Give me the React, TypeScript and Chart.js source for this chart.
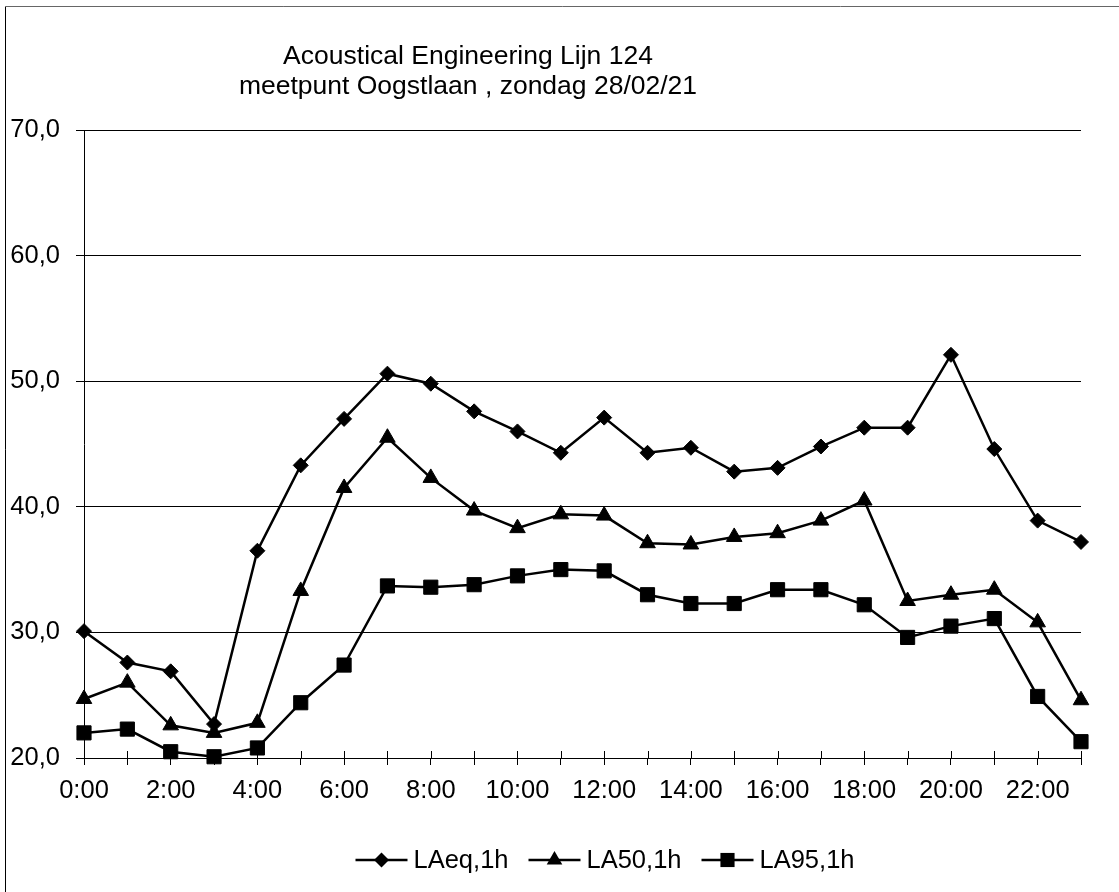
import React, { useEffect, useRef } from 'react';
import { Chart, registerables } from 'chart.js';

Chart.register(...registerables);

const hours = ['0:00', '1:00', '2:00', '3:00', '4:00', '5:00', '6:00', '7:00', '8:00', '9:00', '10:00', '11:00',
  '12:00', '13:00', '14:00', '15:00', '16:00', '17:00', '18:00', '19:00', '20:00', '21:00', '22:00', '23:00'];
const laeq = [30.1, 27.6, 26.9, 22.7, 36.5, 43.3, 47.0, 50.6, 49.8, 47.6, 46.0, 44.3, 47.1, 44.3, 44.7, 42.8, 43.1, 44.8, 46.3, 46.3, 52.1, 44.6, 38.9, 37.2];
const la50 = [24.7, 26.0, 22.6, 22.0, 22.8, 33.3, 41.5, 45.5, 42.3, 39.7, 38.3, 39.4, 39.3, 37.1, 37.0, 37.6, 37.9, 38.9, 40.5, 32.5, 33.0, 33.4, 30.8, 24.6];
const la95 = [22.0, 22.3, 20.5, 20.1, 20.8, 24.4, 27.4, 33.7, 33.6, 33.8, 34.5, 35.0, 34.9, 33.0, 32.3, 32.3, 33.4, 33.4, 32.2, 29.6, 30.5, 31.1, 24.9, 21.3];
const seriesLabels = ['LAeq,1h', 'LA50,1h', 'LA95,1h'];
const yMin = 20;
const yMax = 70;
const yStep = 10;
const titleLines = ['Acoustical Engineering Lijn 124', 'meetpunt Oogstlaan , zondag 28/02/21'];

const FONT = "'Liberation Sans', Arial, sans-serif";
const W = 1119;
const H = 892;

function drawMarker(ctx: CanvasRenderingContext2D, style: string, r: number, x: number, y: number) {
  ctx.beginPath();
  if (style === 'rectRot') {
    ctx.moveTo(x, y - r);
    ctx.lineTo(x + r, y);
    ctx.lineTo(x, y + r);
    ctx.lineTo(x - r, y);
  } else if (style === 'triangle') {
    ctx.moveTo(x, y - r);
    ctx.lineTo(x + r * Math.sin(Math.PI / 3), y + r * 0.5);
    ctx.lineTo(x - r * Math.sin(Math.PI / 3), y + r * 0.5);
  } else {
    const s = r * Math.SQRT1_2;
    ctx.rect(x - s, y - s, 2 * s, 2 * s);
  }
  ctx.closePath();
  ctx.fill();
}

const decorPlugin = {
  id: 'decor',
  beforeDatasetsDraw(chart: any) {
    const ctx = chart.ctx as CanvasRenderingContext2D;
    const xs = chart.scales.x;
    const area = chart.chartArea;
    ctx.save();
    ctx.strokeStyle = '#000';
    ctx.lineWidth = 1;
    ctx.beginPath();
    for (let i = 0; i < hours.length; i++) {
      const px = Math.round(xs.getPixelForValue(i)) + 0.5;
      ctx.moveTo(px, area.bottom - 7);
      ctx.lineTo(px, area.bottom);
    }
    ctx.stroke();
    ctx.restore();
  },
  afterDraw(chart: any) {
    const ctx = chart.ctx as CanvasRenderingContext2D;
    ctx.save();
    ctx.lineWidth = 1;
    ctx.strokeStyle = '#000';
    ctx.beginPath();
    ctx.moveTo(5.5, 6.5);
    ctx.lineTo(5.5, H);
    ctx.stroke();
    ctx.strokeStyle = '#666';
    ctx.beginPath();
    ctx.moveTo(5.5, 6.5);
    ctx.lineTo(W, 6.5);
    ctx.stroke();

    ctx.fillStyle = '#000';
    ctx.font = `26.5px ${FONT}`;
    ctx.textAlign = 'center';
    ctx.textBaseline = 'alphabetic';
    ctx.fillText(titleLines[0], 468, 64);
    ctx.fillText(titleLines[1], 468, 93.5);

    ctx.font = `25.5px ${FONT}`;
    const lineLen = 52;
    const gapText = 6;
    const gapItem = 20;
    const ds = chart.data.datasets;
    let total = 0;
    ds.forEach((d: any, i: number) => {
      total += lineLen + gapText + ctx.measureText(d.label).width + (i < ds.length - 1 ? gapItem : 0);
    });
    let x = 605 - total / 2;
    const ly = 860;
    ctx.textAlign = 'left';
    ctx.textBaseline = 'middle';
    ds.forEach((d: any) => {
      ctx.strokeStyle = '#000';
      ctx.lineWidth = 2.5;
      ctx.beginPath();
      ctx.moveTo(x, ly);
      ctx.lineTo(x + lineLen, ly);
      ctx.stroke();
      ctx.fillStyle = '#000';
      drawMarker(ctx, d.pointStyle, d.pointRadius, x + lineLen / 2, ly);
      ctx.fillText(d.label, x + lineLen + gapText, ly + 1);
      x += lineLen + gapText + ctx.measureText(d.label).width + gapItem;
    });
    ctx.restore();
  },
};

export default function App() {
  const ref = useRef<HTMLCanvasElement | null>(null);

  useEffect(() => {
    if (!ref.current) return;
    const mk = (label: string, data: number[], pointStyle: string, pointRadius: number) => ({
      label,
      data,
      borderColor: '#000',
      backgroundColor: '#000',
      borderWidth: 2.5,
      pointStyle,
      pointRadius,
      pointBorderWidth: 1,
      pointBackgroundColor: '#000',
      pointBorderColor: '#000',
      tension: 0,
      clip: false,
    });
    const chart = new Chart(ref.current, {
      type: 'line',
      data: {
        labels: hours,
        datasets: [
          mk(seriesLabels[0], laeq, 'rectRot', 7.5),
          mk(seriesLabels[1], la50, 'triangle', 9),
          mk(seriesLabels[2], la95, 'rect', 10),
        ],
      },
      options: {
        animation: false,
        responsive: false,
        devicePixelRatio: 1,
        events: [],
        layout: { padding: { left: 0, right: 38, top: 130, bottom: 74 } },
        plugins: {
          legend: { display: false },
          title: { display: false },
          tooltip: { enabled: false },
        },
        scales: {
          x: {
            type: 'category',
            offset: false,
            grid: { display: true, drawOnChartArea: false, drawTicks: true, tickLength: 7, color: '#000', lineWidth: 1 },
            border: { display: true, color: '#000', width: 1 },
            ticks: {
              autoSkip: false,
              maxRotation: 0,
              minRotation: 0,
              padding: 11,
              color: '#000',
              font: { family: FONT, size: 25.5 },
              callback: (_v: any, i: number) => (i % 2 === 0 ? hours[i] : ''),
            },
            afterFit: (s: any) => { s.height = 60; },
          },
          y: {
            min: yMin,
            max: yMax,
            grid: { color: '#000', lineWidth: 1, drawTicks: true, tickLength: 8 },
            border: { display: true, color: '#000', width: 1 },
            ticks: {
              stepSize: yStep,
              padding: 16,
              color: '#000',
              font: { family: FONT, size: 25.5 },
              callback: (v: any) => Number(v).toFixed(1).replace('.', ','),
            },
            afterFit: (s: any) => { s.width = 84; },
          },
        },
      },
      plugins: [decorPlugin],
    } as any);
    return () => chart.destroy();
  }, []);

  return (
    <div style={{ position: 'absolute', left: 0, top: 0, width: W, height: H, background: '#fff' }}>
      <canvas ref={ref} width={W} height={H} style={{ display: 'block', width: W, height: H }} />
    </div>
  );
}
